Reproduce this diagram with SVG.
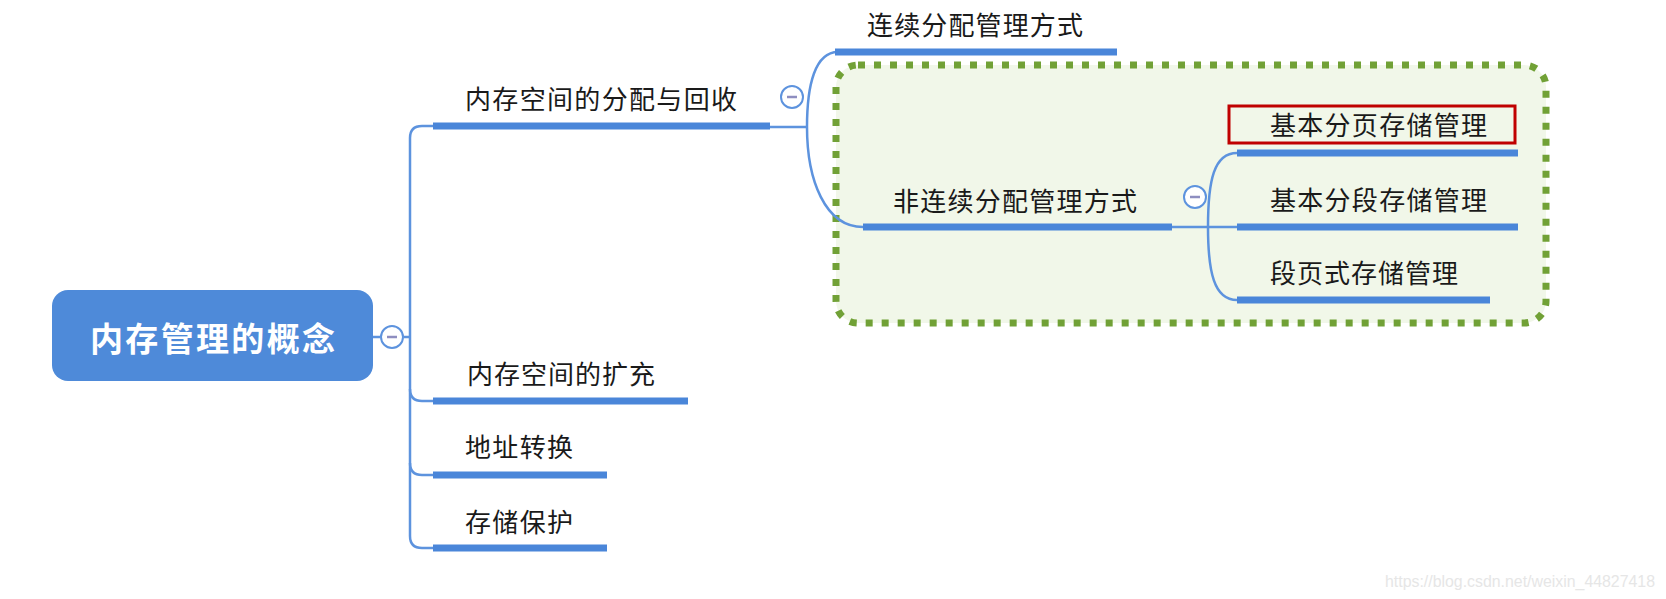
<svg xmlns="http://www.w3.org/2000/svg" width="1666" height="599" viewBox="0 0 1666 599">
<style>
.t{font-family:"Noto Sans CJK SC","Noto Sans",sans-serif;font-size:26px;fill:#1a1a1a}
.ul{stroke:#4a86d9;stroke-width:7;fill:none}
.cn{stroke:#5d93de;stroke-width:2.5;fill:none}
.cc{fill:#fff;stroke:#5d93de;stroke-width:2}
.cm{stroke:#8e8ec0;stroke-width:2.5}
</style>
<rect width="1666" height="599" fill="#fff"/>
<g id="group-box">
<rect x="836" y="65" width="710" height="258" rx="22" fill="#f1f7e9" stroke="#71a136" stroke-width="7" stroke-dasharray="7 9"/>
</g>
<g id="connectors">
<path class="cn" d="M373,337 H380 M404,337 H410"/>
<path class="cn" d="M433,126 H422 Q410,126 410,138 V536 Q410,548 422,548 H433"/>
<path class="cn" d="M410,389 Q410,401 422,401 H433 M410,463 Q410,475 422,475 H433"/>
<path class="cn" d="M770,127 H807 M807,127 C807,85 815,52 838,52 M807,127 C807,180 825,227 863,227"/>
<path class="cn" d="M1172,227 H1237 M1208,227 C1208,180 1214,153 1237,153 M1208,227 C1208,272 1214,300 1237,300"/>
<circle class="cc" cx="392" cy="337" r="11"/><line class="cm" x1="387" y1="337" x2="397" y2="337"/>
<circle class="cc" cx="792" cy="97" r="11"/><line class="cm" x1="787" y1="97" x2="797" y2="97"/>
<circle class="cc" cx="1195" cy="197" r="11"/><line class="cm" x1="1190" y1="197" x2="1200" y2="197"/>
</g>
<g id="root">
<rect x="52" y="290" width="321" height="91" rx="16" fill="#4e8ad9"/>
<text x="90" y="351" font-family="Noto Sans CJK SC,sans-serif" font-size="33" font-weight="bold" fill="#fff" textLength="245" lengthAdjust="spacing">内存管理的概念</text>
</g>
<g id="n-alloc">
<line class="ul" x1="433" y1="126" x2="770" y2="126"/>
<text class="t" x="465" y="109" textLength="272" lengthAdjust="spacing">内存空间的分配与回收</text>
</g>
<g id="n-contig">
<line class="ul" x1="835" y1="52" x2="1117" y2="52"/>
<text class="t" x="867" y="35" textLength="216" lengthAdjust="spacing">连续分配管理方式</text>
</g>
<g id="n-noncontig">
<line class="ul" x1="863" y1="227" x2="1172" y2="227"/>
<text class="t" x="893" y="211" textLength="244" lengthAdjust="spacing">非连续分配管理方式</text>
</g>
<g id="n-page">
<line class="ul" x1="1237" y1="153" x2="1518" y2="153"/>
<text class="t" x="1270" y="135" textLength="217" lengthAdjust="spacing">基本分页存储管理</text>
<rect x="1229" y="106" width="286" height="37" fill="none" stroke="#c00000" stroke-width="3"/>
</g>
<g id="n-seg">
<line class="ul" x1="1237" y1="227" x2="1518" y2="227"/>
<text class="t" x="1270" y="210" textLength="217" lengthAdjust="spacing">基本分段存储管理</text>
</g>
<g id="n-segpage">
<line class="ul" x1="1237" y1="300" x2="1490" y2="300"/>
<text class="t" x="1270" y="283" textLength="188" lengthAdjust="spacing">段页式存储管理</text>
</g>
<g id="n-expand">
<line class="ul" x1="433" y1="401" x2="688" y2="401"/>
<text class="t" x="467" y="384" textLength="188" lengthAdjust="spacing">内存空间的扩充</text>
</g>
<g id="n-addr">
<line class="ul" x1="433" y1="475" x2="607" y2="475"/>
<text class="t" x="465" y="457" textLength="108" lengthAdjust="spacing">地址转换</text>
</g>
<g id="n-protect">
<line class="ul" x1="433" y1="548" x2="607" y2="548"/>
<text class="t" x="465" y="532" textLength="108" lengthAdjust="spacing">存储保护</text>
</g>
<text x="1385" y="587" font-family="Liberation Sans,sans-serif" font-size="16" fill="#e6e6e6" textLength="270" lengthAdjust="spacingAndGlyphs">https://blog.csdn.net/weixin_44827418</text>
</svg>
